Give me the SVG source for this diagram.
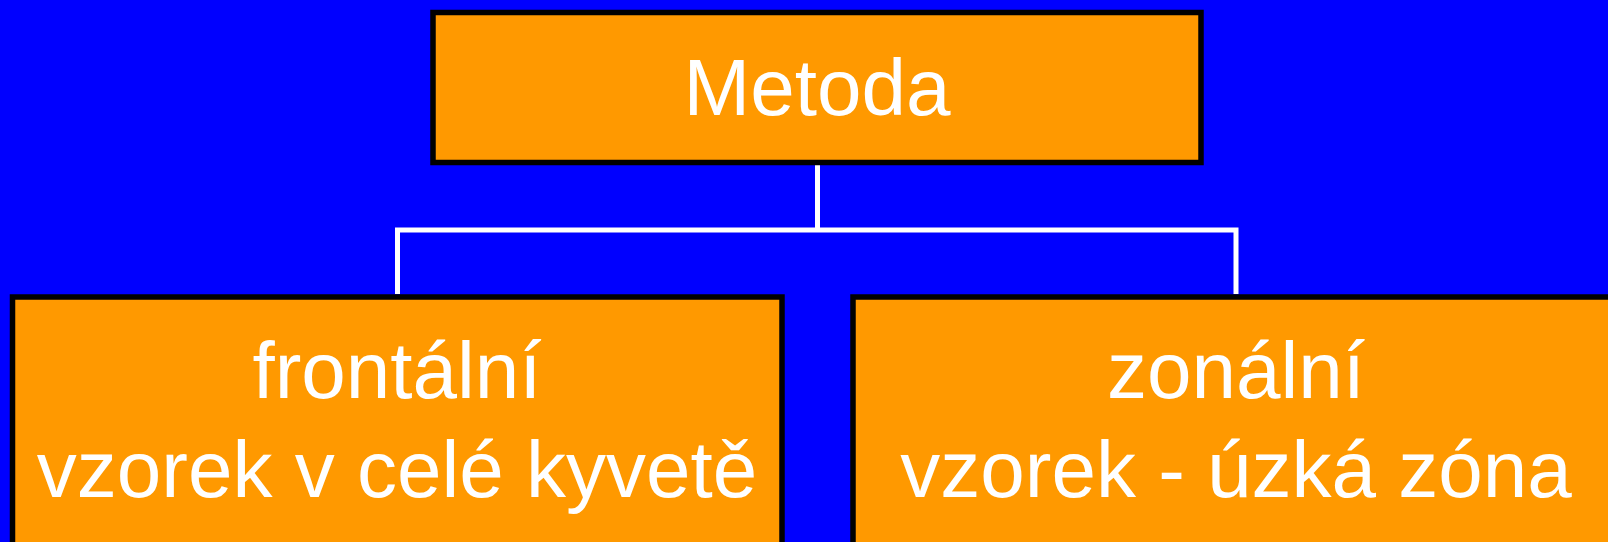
<svg xmlns="http://www.w3.org/2000/svg" width="1608" height="542" viewBox="0 0 1608 542">
<style>
.box{fill:#FF9900;stroke:#000;stroke-width:5.5}
.lbl{font-family:"Liberation Sans",Arial,sans-serif;fill:#fff;text-anchor:middle;font-size:80px}
.conn{stroke:#fff;stroke-width:5;fill:none}
</style>
<rect x="0" y="0" width="1608" height="542" fill="#0000FF"/>
<g id="connectors">
<path class="conn" d="M817.5 165 V230"/>
<path class="conn" d="M397.5 294 V230 H1236 V294"/>
</g>
<g id="node-metoda">
<rect class="box" x="433" y="12.5" width="768" height="150"/>
<text class="lbl" x="817" y="115">Metoda</text>
</g>
<g id="node-frontalni">
<rect class="box" x="12.5" y="297" width="769.5" height="280"/>
<text class="lbl" x="397" y="398">frontální</text>
<text class="lbl" x="397" y="497">vzorek v celé kyvetě</text>
</g>
<g id="node-zonalni">
<rect class="box" x="853" y="297" width="769.5" height="280"/>
<text class="lbl" x="1236" y="398">zonální</text>
<text class="lbl" x="1236" y="497">vzorek - úzká zóna</text>
</g>
</svg>
